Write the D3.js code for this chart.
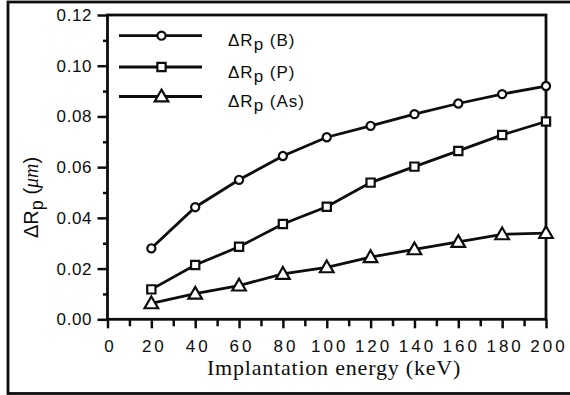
<!DOCTYPE html>
<html>
<head>
<meta charset="utf-8">
<script src="https://cdn.jsdelivr.net/npm/d3@7"></script>
<style>
  html, body { margin: 0; padding: 0; background: #fff; }
  svg { display: block; }
</style>
</head>
<body>
<svg id="chart" width="570" height="395"></svg>
<script>
// ---- data ----
const energies = [20, 40, 60, 80, 100, 120, 140, 160, 180, 200];
const rpB  = [0.0280, 0.0442, 0.0550, 0.0644, 0.0718, 0.0763, 0.0809, 0.0851, 0.0888, 0.0920];
const rpP  = [0.0118, 0.0214, 0.0286, 0.0376, 0.0444, 0.0539, 0.0602, 0.0664, 0.0727, 0.0780];
const rpAs = [0.0063, 0.0101, 0.0133, 0.0179, 0.0205, 0.0245, 0.0276, 0.0305, 0.0335, 0.0340];
const seriesNames = ["B", "P", "As"];
const xTicks = [0, 20, 40, 60, 80, 100, 120, 140, 160, 180, 200];
const yTicks = [0.00, 0.02, 0.04, 0.06, 0.08, 0.10, 0.12];
const xTitle = "Implantation energy (keV)";

// ---- layout ----
const svg = d3.select("#chart");
const L = 107.5, R = 546, T = 15, B = 319.3;
const x = d3.scaleLinear().domain([0, 200]).range([L, R]);
const y = d3.scaleLinear().domain([0, 0.12]).range([B, T]);
const sans = "'Liberation Sans', Arial, Helvetica, sans-serif";
const serif = "'Liberation Serif', 'Times New Roman', serif";
const ink = "#0d0d0d";

// outer border
svg.append("rect").attr("x", 8).attr("y", 2).attr("width", 580).attr("height", 391.5)
  .attr("fill", "none").attr("stroke", ink).attr("stroke-width", 2.8);

// minor ticks
const xMinor = d3.range(10, 200, 20);
const yMinor = d3.range(0.01, 0.12, 0.02);
svg.append("g").attr("transform", `translate(0,${B})`)
  .call(d3.axisBottom(x).tickValues(xMinor).tickSize(7).tickFormat(""))
  .call(g => g.select(".domain").remove())
  .selectAll("line").attr("stroke", ink).attr("stroke-width", 2.5);
svg.append("g").attr("transform", `translate(${L},0)`)
  .call(d3.axisLeft(y).tickValues(yMinor).tickSize(4.5).tickFormat(""))
  .call(g => g.select(".domain").remove())
  .selectAll("line").attr("stroke", ink).attr("stroke-width", 2.5);

// major ticks
const xAx = svg.append("g").attr("transform", `translate(0,${B})`)
  .call(d3.axisBottom(x).tickValues(xTicks).tickSize(9).tickPadding(12).tickFormat(d3.format("d")));
xAx.select(".domain").remove();
xAx.selectAll("line").attr("stroke", ink).attr("stroke-width", 2.5);
xAx.selectAll("text").attr("fill", ink).style("font-family", sans).style("font-size", "17px")
  .style("letter-spacing", "3px").attr("dx", "2.5px");

const yAx = svg.append("g").attr("transform", `translate(${L},0)`)
  .call(d3.axisLeft(y).tickValues(yTicks).tickSize(10).tickPadding(6).tickFormat(d3.format(".2f")));
yAx.select(".domain").remove();
yAx.selectAll("line").attr("stroke", ink).attr("stroke-width", 2.5);
yAx.selectAll("text").attr("fill", ink).style("font-family", sans).style("font-size", "17px")
  .style("letter-spacing", "0.6px").attr("dx", "0.6px");

// frame
svg.append("rect").attr("x", L).attr("y", T).attr("width", R - L).attr("height", B - T)
  .attr("fill", "none").attr("stroke", ink).attr("stroke-width", 2.8);

// series
const data = [rpB, rpP, rpAs];
const line = d3.line().x((d, i) => x(energies[i])).y(d => y(d));
const sym = [d3.symbolCircle, d3.symbolSquare, d3.symbolTriangle];
const symSize = [52, 68, 80];
function marker(g, k, cx, cy) {
  g.append("path")
    .attr("d", d3.symbol().type(sym[k]).size(symSize[k])())
    .attr("transform", `translate(${cx},${cy + (k === 2 ? 1 : 0)})`)
    .attr("fill", "#fff").attr("stroke", ink).attr("stroke-width", 2.2);
}
data.forEach((vals, k) => {
  const g = svg.append("g");
  g.append("path").datum(vals).attr("d", line)
    .attr("fill", "none").attr("stroke", ink).attr("stroke-width", 2.8);
  vals.forEach((v, i) => marker(g, k, x(energies[i]), y(v)));
});

// legend
const legY = [35.7, 67, 96.5];
seriesNames.forEach((name, k) => {
  const g = svg.append("g");
  g.append("line").attr("x1", 119).attr("x2", 202).attr("y1", legY[k]).attr("y2", legY[k])
    .attr("stroke", ink).attr("stroke-width", 2.8);
  marker(g, k, 161.5, legY[k]);
  const t = g.append("text").attr("x", 228).attr("y", legY[k] + 10.5)
    .attr("fill", ink).style("font-family", sans).style("font-size", "17px")
    .style("letter-spacing", "1px");
  t.append("tspan").text("ΔR");
  t.append("tspan").attr("dy", 4).style("font-size", "17px").text("p");
  t.append("tspan").attr("dy", -4).text(" (" + name + ")");
});

// y title
const yt = svg.append("text").attr("transform", "translate(38,238) rotate(-90)")
  .attr("fill", ink).style("font-family", sans).style("font-size", "20px");
yt.append("tspan").text("ΔR");
yt.append("tspan").attr("dy", 5).style("font-size", "18px").text("p");
yt.append("tspan").attr("dy", -5).text(" (");
yt.append("tspan").style("font-family", serif).style("font-style", "italic").text("μm");
yt.append("tspan").text(")");

// x title
svg.append("text").attr("x", 334).attr("y", 375).attr("text-anchor", "middle")
  .attr("fill", ink).style("font-family", serif).style("font-size", "22px")
  .style("letter-spacing", "0.8px").text(xTitle);
</script>
</body>
</html>
